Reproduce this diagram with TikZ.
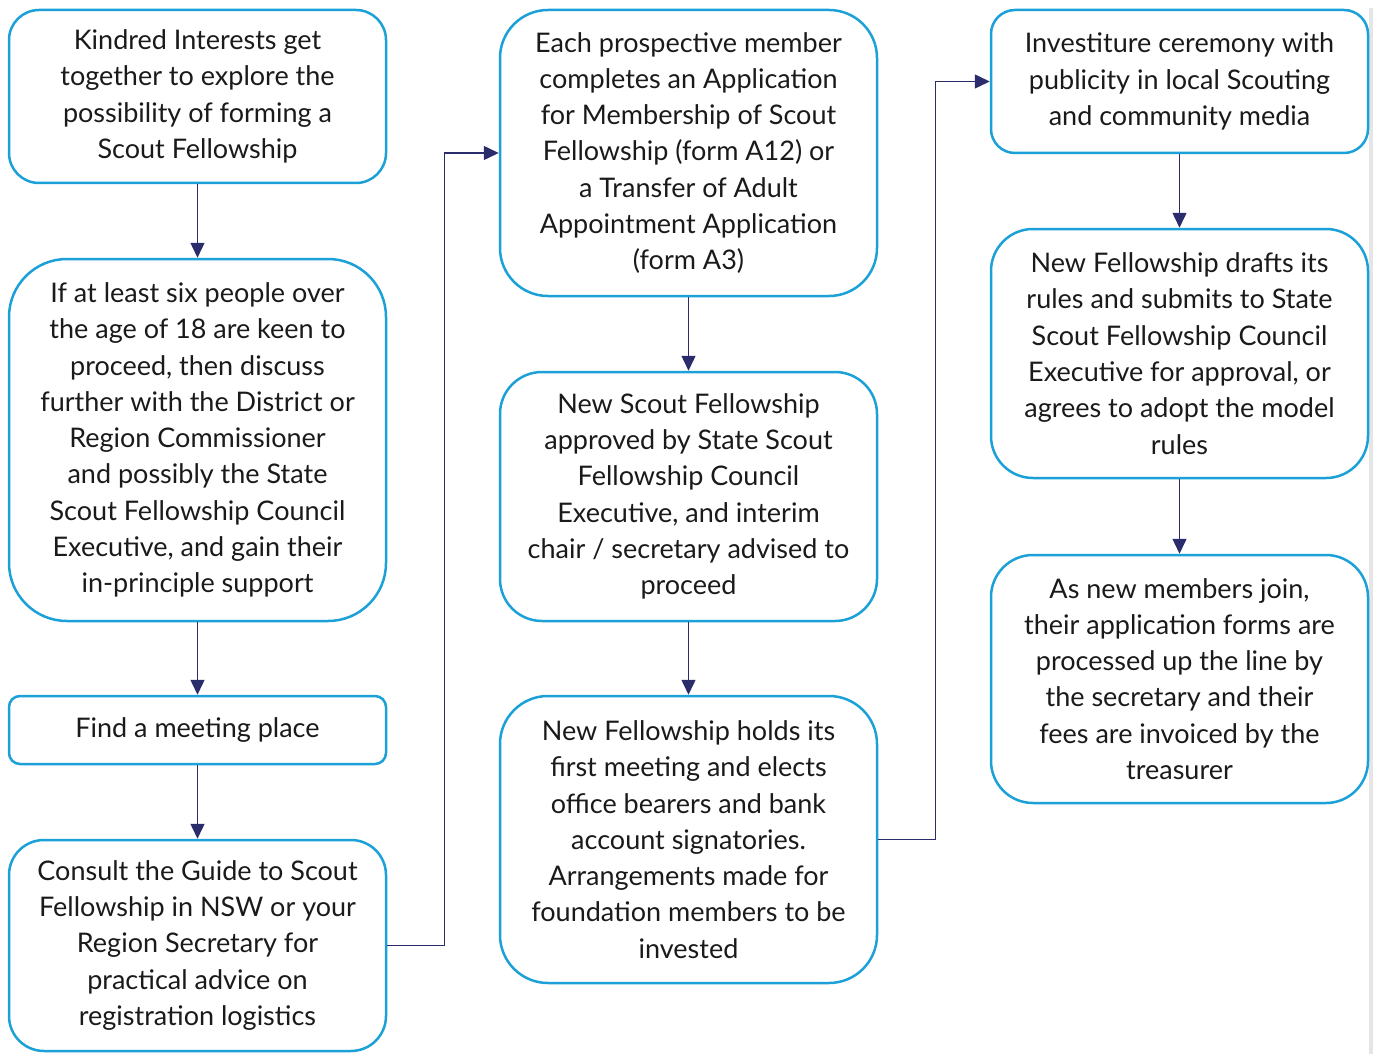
\documentclass[tikz,border=0pt]{standalone}
\usepackage{fontspec}
\setmainfont{Lato}
\usepackage{tikz}
\usetikzlibrary{arrows.meta, positioning}
\definecolor{boxline}{HTML}{1BA0D7}
\definecolor{flowline}{HTML}{2B2C6B}
\definecolor{inktext}{HTML}{1A1A1A}

\begin{document}
\begin{tikzpicture}[
    x=1pt, y=-1pt,
    stepbox/.style={draw=boxline, line width=2.5pt, rounded corners=#1, minimum width=377pt,
        align=center, text=inktext, font=\fontsize{27}{36.3}\selectfont, inner sep=0pt},
    arrow/.style={-{Triangle[length=15pt, width=14pt]}, line width=1.5pt, draw=flowline},
    link/.style={line width=1.5pt, draw=flowline}
]
\useasboundingbox (0,0) rectangle (1377,1054);
\fill[black!10] (1369,8) rectangle (1373,1054);

% Spalte links
\node[stepbox=30pt, minimum height=173pt] (kindred) at (197.5, 96.5)
    {Kindred Interests get\\together to explore the\\possibility of forming a\\Scout Fellowship};
\node[stepbox=58pt, minimum height=362pt] (keen) at (197.5, 440)
    {If at least six people over\\the age of 18 are keen to\\proceed, then discuss\\further with the District or\\Region Commissioner\\and possibly the State\\Scout Fellowship Council\\Executive, and gain their\\in-principle support};
\node[stepbox=11pt, minimum height=68pt] (place) at (197.5, 730)
    {Find a meeting place};
\node[stepbox=35pt, minimum height=211pt] (guide) at (197.5, 945.5)
    {Consult the Guide to Scout\\Fellowship in NSW or your\\Region Secretary for\\practical advice on\\registration logistics};

% Spalte Mitte
\node[stepbox=48pt, minimum height=286pt] (apply) at (688.5, 153)
    {Each prospective member\\completes an Application\\for Membership of Scout\\Fellowship (form A12) or\\a Transfer of Adult\\Appointment Application\\(form A3)};
\node[stepbox=42pt, minimum height=249pt] (approved) at (688.5, 496.5)
    {New Scout Fellowship\\approved by State Scout\\Fellowship Council\\Executive, and interim\\chair / secretary advised to\\proceed};
\node[stepbox=48pt, minimum height=287pt] (first) at (688.5, 839.5)
    {New Fellowship holds its\\first meeting and elects\\office bearers and bank\\account signatories.\\Arrangements made for\\foundation members to be\\invested};

% Spalte rechts
\node[stepbox=24pt, minimum height=143pt] (invest) at (1179.5, 81.5)
    {Investiture ceremony with\\publicity in local Scouting\\and community media};
\node[stepbox=42pt, minimum height=249pt] (rules) at (1179.5, 353.5)
    {New Fellowship drafts its\\rules and submits to State\\Scout Fellowship Council\\Executive for approval, or\\agrees to adopt the model\\rules};
\node[stepbox=42pt, minimum height=248pt] (join) at (1179.5, 679)
    {As new members join,\\their application forms are\\processed up the line by\\the secretary and their\\fees are invoiced by the\\treasurer};

% Pfeile
\draw[arrow] (kindred.south) -- (keen.north);
\draw[arrow] (keen.south) -- (place.north);
\draw[arrow] (place.south) -- (guide.north);
\draw[arrow] (guide.east) -- ++(57,0) |- (apply.west);
\draw[arrow] (apply.south) -- (approved.north);
\draw[arrow] (approved.south) -- (first.north);
\draw[arrow] (first.east) -- ++(57,0) |- (invest.west);
\draw[arrow] (invest.south) -- (rules.north);
\draw[arrow] (rules.south) -- (join.north);

\end{tikzpicture}
\end{document}
